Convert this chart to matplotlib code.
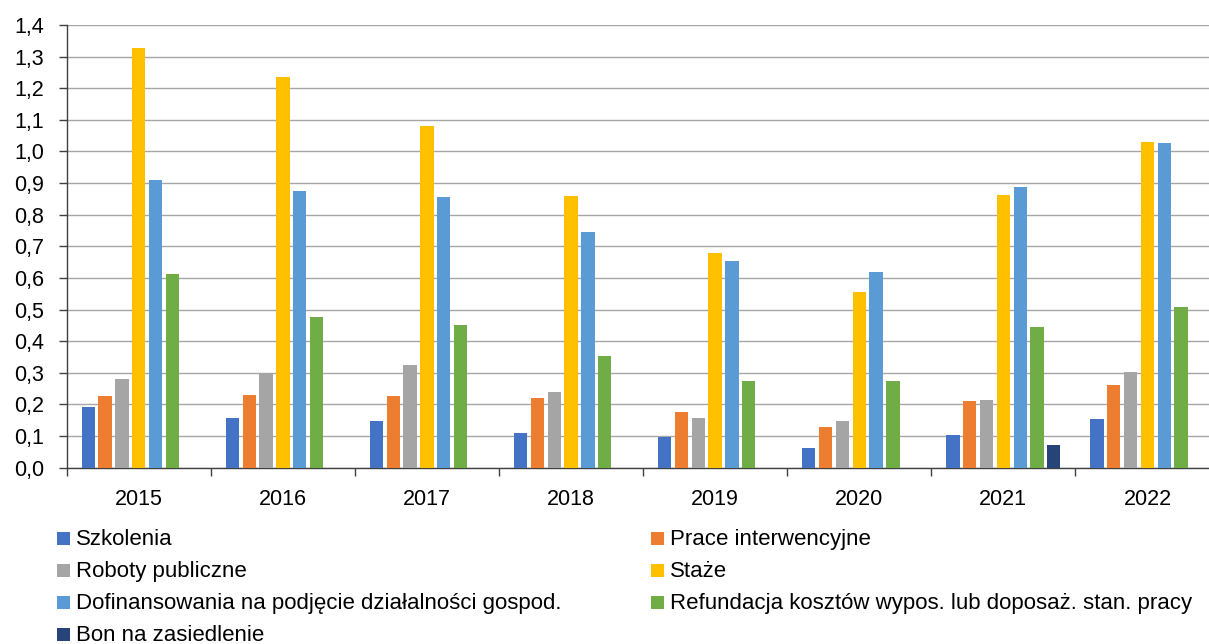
import numpy as np
import matplotlib
matplotlib.use("Agg")
import matplotlib.pyplot as plt
from matplotlib.patches import Rectangle

years = ["2015", "2016", "2017", "2018", "2019", "2020", "2021", "2022"]
series_names = [
    "Szkolenia",
    "Prace interwencyjne",
    "Roboty publiczne",
    "Staże",
    "Dofinansowania na podjęcie działalności gospod.",
    "Refundacja kosztów wypos. lub doposaż. stan. pracy",
    "Bon na zasiedlenie",
]
szkolenia = [0.191, 0.157, 0.147, 0.109, 0.096, 0.062, 0.103, 0.155]
prace = [0.226, 0.230, 0.226, 0.222, 0.176, 0.130, 0.212, 0.262]
roboty = [0.280, 0.300, 0.325, 0.239, 0.156, 0.148, 0.215, 0.303]
staze = [1.327, 1.237, 1.080, 0.858, 0.678, 0.556, 0.862, 1.030]
dofin = [0.911, 0.874, 0.857, 0.745, 0.655, 0.619, 0.889, 1.026]
refund = [0.612, 0.476, 0.450, 0.354, 0.274, 0.275, 0.444, 0.509]
bon = [0.0, 0.0, 0.0, 0.0, 0.0, 0.0, 0.073, 0.0]
yticks = [0.0, 0.1, 0.2, 0.3, 0.4, 0.5, 0.6, 0.7, 0.8, 0.9, 1.0, 1.1, 1.2, 1.3, 1.4]

colors = ["#4472C4", "#ED7D31", "#A5A5A5", "#FFC000", "#5B9BD5", "#70AD47", "#264478"]
data = [szkolenia, prace, roboty, staze, dofin, refund, bon]

FONT = "Liberation Sans"
FS = 15.5
LFS = 16
W, H = 1209, 644

fig = plt.figure(figsize=(W / 100, H / 100), dpi=100)
ax = fig.add_axes([66.7 / W, 1 - 467.7 / H, 1152.8 / W, 442.7 / H])

x = np.arange(len(years))
pitch = 0.1167
width = 0.0925
for i, (vals, col) in enumerate(zip(data, colors)):
    ax.bar(x + (i - 3) * pitch, vals, width=width, color=col, zorder=3)

ax.set_xlim(-0.5, len(years) - 0.5)
ax.set_ylim(0, 1.4)
ax.set_yticks(yticks)
ax.set_yticklabels([f"{v:.1f}".replace(".", ",") for v in yticks], fontfamily=FONT, fontsize=FS)
ax.yaxis.grid(True, color="#A6A6A6", linewidth=1.0, zorder=0)
ax.set_axisbelow(True)

ax.set_xticks(np.arange(-0.5, len(years), 1.0))
ax.set_xticklabels([])
ax.set_xticks(x, minor=True)
ax.set_xticklabels(years, minor=True, fontfamily=FONT, fontsize=FS)
ax.tick_params(axis="x", which="minor", length=0, pad=15)
ax.tick_params(axis="x", which="major", length=6, width=1, color="#404040", direction="out")
ax.tick_params(axis="y", length=6, width=1, color="#404040", direction="out", pad=10)

for s in ["top", "right"]:
    ax.spines[s].set_visible(False)
for s in ["left", "bottom"]:
    ax.spines[s].set_color("#404040")
    ax.spines[s].set_linewidth(1)

# legend: two columns, row-major order as in the reference
col_x = [57, 651]
row_y = [538, 570, 602, 634]
sq = 13
for k, (name, col) in enumerate(zip(series_names, colors)):
    r, c = divmod(k, 2)
    x0 = col_x[c]
    yc = row_y[r]
    fig.patches.append(Rectangle(((x0) / W, 1 - (yc + sq / 2) / H), sq / W, sq / H,
                                 transform=fig.transFigure, facecolor=col, edgecolor="none"))
    fig.text((x0 + sq + 6) / W, 1 - (yc + sq / 2 + 0.5) / H, name, fontfamily=FONT,
             fontsize=LFS, va="baseline", ha="left")

fig.savefig("out.png", dpi=100)
